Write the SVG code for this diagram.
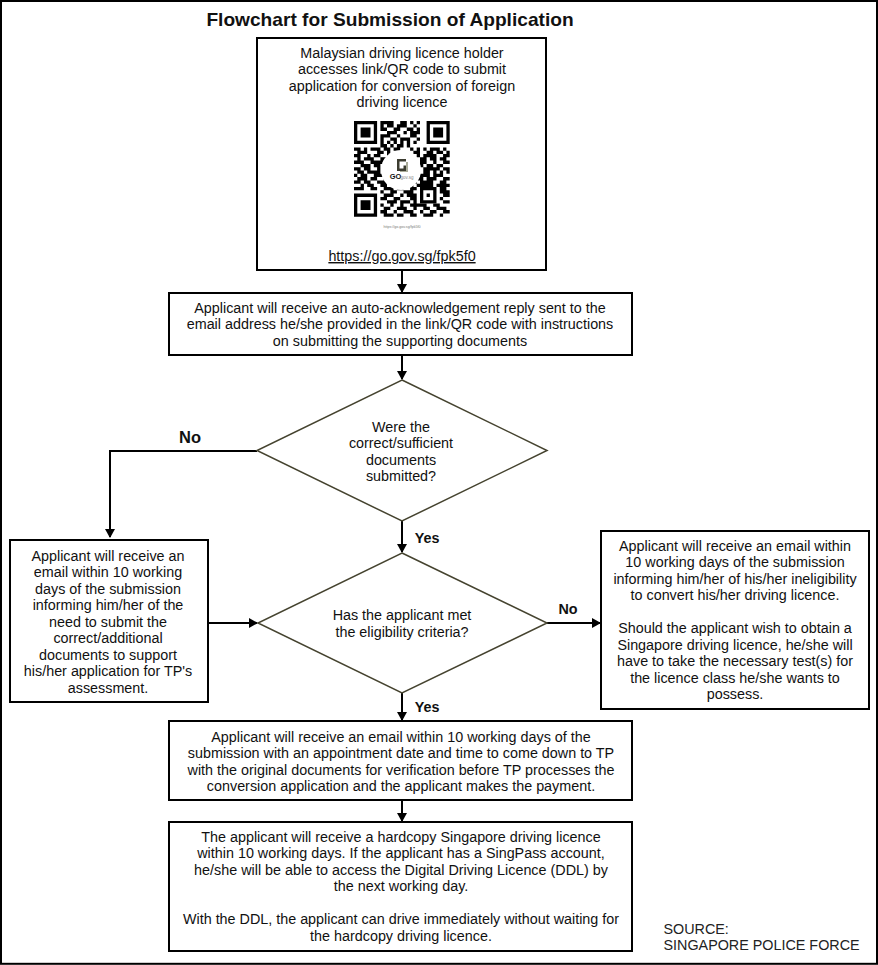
<svg xmlns="http://www.w3.org/2000/svg" width="878" height="965" viewBox="0 0 878 965">
<style>
text{font-family:"Liberation Sans",Arial,sans-serif;font-size:14.350px;fill:#111;text-anchor:middle}
.box{fill:#fff;stroke:#000;stroke-width:2}
.dia{fill:#fff;stroke:#45432f;stroke-width:1.5}
.lab{font-weight:bold}
.con{fill:none;stroke:#000;stroke-width:2}
</style>
<defs><marker id="a" markerUnits="userSpaceOnUse" markerWidth="10" markerHeight="11" refX="8" refY="5.500" orient="auto"><path d="M0 0.500L9 5.500L0 10.500z" fill="#000"/></marker></defs>
<rect x="1" y="1" width="876" height="962.800" fill="#fff" stroke="#000" stroke-width="2"/>
<text x="390" y="26" style="font-size:19.150px;font-weight:bold">Flowchart for Submission of Application</text>
<g id="connectors">
<path class="con" marker-end="url(#a)" d="M402 270V292"/>
<path class="con" marker-end="url(#a)" d="M402 355V379"/>
<path class="con" d="M257 451H110V537" marker-end="url(#a)"/>
<path class="con" marker-end="url(#a)" d="M402 521V552"/>
<path class="con" marker-end="url(#a)" d="M208 623H257"/>
<path class="con" marker-end="url(#a)" d="M547 623H600"/>
<path class="con" marker-end="url(#a)" d="M402 693V720"/>
<path class="con" marker-end="url(#a)" d="M402 800V821"/>
</g>
<g id="n1"><rect class="box" x="257" y="38" width="289" height="232"/>
<text x="402" y="58">Malaysian driving licence holder</text>
<text x="402" y="74">accesses link/QR code to submit</text>
<text x="402" y="91">application for conversion of foreign</text>
<text x="402" y="107">driving licence</text>
<g transform="translate(354 121) scale(3.3)">
<path fill="#000" fill-rule="evenodd" d="M0 0h7v7h-7zM1 1v5h5v-5zM2 2h3v3h-3zM22 0h7v7h-7zM23 1v5h5v-5zM24 2h3v3h-3zM0 22h7v7h-7zM1 23v5h5v-5zM2 24h3v3h-3zM20 20h5v5h-5zM21 21v3h3v-3zM22 22h1v1h-1z"/>
<path fill="none" stroke="#000" stroke-width="1" d="M8 .5H12M14 .5H16M17 .5H18M19 .5H20M8 1.500H9M10 1.500H12M13 1.500H16M18 1.500H19M8 2.500H10M12 2.500H14M16 2.500H18M19 2.500H20M10 3.500H13M15 3.500H16M17 3.500H20M8 4.500H11M13 4.500H14M17 4.500H19M8 5.500H9M11 5.500H13M14 5.500H17M19 5.500H20M8 6.500H9M10 6.500H11M12 6.500H13M14 6.500H15M16 6.500H17M18 6.500H19M8 7.500H10M11 7.500H12M13 7.500H15M16 7.500H17M0 8.500H2M3 8.500H4M5 8.500H8M9 8.500H11M12 8.500H14M17 8.500H18M19 8.500H20M21 8.500H22M23 8.500H26M27 8.500H28M1 9.500H4M7 9.500H9M10 9.500H11M18 9.500H20M22 9.500H24M25 9.500H27M28 9.500H29M0 10.500H2M4 10.500H5M6 10.500H8M10 10.500H11M19 10.500H20M21 10.500H25M27 10.500H29M1 11.500H2M3 11.500H6M8 11.500H10M20 11.500H22M23 11.500H25M26 11.500H28M0 12.500H3M5 12.500H9M20 12.500H22M24 12.500H25M27 12.500H29M2 13.500H5M6 13.500H8M20 13.500H21M22 13.500H24M25 13.500H27M0 14.500H2M3 14.500H5M7 14.500H8M21 14.500H26M27 14.500H29M1 15.500H3M4 15.500H8M21 15.500H23M24 15.500H25M26 15.500H27M28 15.500H29M0 16.500H1M2 16.500H4M6 16.500H9M20 16.500H23M24 16.500H27M1 17.500H4M5 17.500H7M9 17.500H10M19 17.500H21M22 17.500H25M27 17.500H29M0 18.500H2M3 18.500H5M7 18.500H11M18 18.500H19M20 18.500H24M26 18.500H28M2 19.500H3M4 19.500H6M8 19.500H10M11 19.500H13M16 19.500H18M19 19.500H24M25 19.500H29M0 20.500H3M5 20.500H7M9 20.500H12M13 20.500H15M17 20.500H19M26 20.500H28M8 21.500H9M11 21.500H13M15 21.500H18M26 21.500H29M9 22.500H12M14 22.500H15M16 22.500H19M27 22.500H29M8 23.500H10M12 23.500H14M17 23.500H19M26 23.500H27M10 24.500H13M14 24.500H17M18 24.500H19M27 24.500H29M8 25.500H9M11 25.500H12M14 25.500H15M17 25.500H22M24 25.500H26M9 26.500H11M13 26.500H16M18 26.500H19M21 26.500H23M25 26.500H28M8 27.500H10M12 27.500H13M15 27.500H18M20 27.500H21M23 27.500H25M27 27.500H29M9 28.500H12M13 28.500H15M17 28.500H19M21 28.500H24M26 28.500H27"/>
</g>
<circle cx="401" cy="170" r="20" fill="#fff"/>
<path fill="#3c3c30" d="M397 159h9v2.500h-6.500v7h4v-3h2.500v5.500h-9z"/>
<path fill="#a9ab98" d="M406 162h2v10h-8v-1h6z"/>
<text x="395.500" y="179" style="font-size:7.500px;font-weight:bold">GO</text>
<text x="407" y="178.500" style="font-size:4.500px;fill:#888">gov.sg</text>
<text x="402" y="228" style="font-size:3.600px;fill:#777">https://go.gov.sg/fpk5f0</text>
<text x="402" y="261" text-decoration="underline">https://go.gov.sg/fpk5f0</text></g>
<g id="n2"><rect class="box" x="169" y="293" width="463" height="62"/>
<text x="400" y="313">Applicant will receive an auto-acknowledgement reply sent to the</text>
<text x="400" y="329">email address he/she provided in the link/QR code with instructions</text>
<text x="400" y="346">on submitting the supporting documents</text></g>
<g id="n3"><path class="dia" d="M402 380L547 450.500L402 521L257 450.500z"/>
<text x="401" y="432">Were the</text>
<text x="401" y="448">correct/sufficient</text>
<text x="401" y="465">documents</text>
<text x="401" y="481">submitted?</text></g>
<g id="n4"><rect class="box" x="10" y="540" width="198" height="162"/>
<text x="108" y="561">Applicant will receive an</text>
<text x="108" y="577">email within 10 working</text>
<text x="108" y="594">days of the submission</text>
<text x="108" y="610">informing him/her of the</text>
<text x="108" y="627">need to submit the</text>
<text x="108" y="643">correct/additional</text>
<text x="108" y="660">documents to support</text>
<text x="108" y="676">his/her application for TP's</text>
<text x="108" y="693">assessment.</text></g>
<g id="n5"><path class="dia" d="M402 553L547 623L402 693L258 623z"/>
<text x="402" y="620">Has the applicant met</text>
<text x="402" y="637">the eligibility criteria?</text></g>
<g id="n6"><rect class="box" x="601" y="531" width="268" height="178"/>
<text x="735" y="551">Applicant will receive an email within</text>
<text x="735" y="567">10 working days of the submission</text>
<text x="735" y="584">informing him/her of his/her ineligibility</text>
<text x="735" y="600">to convert his/her driving licence.</text>
<text x="735" y="633">Should the applicant wish to obtain a</text>
<text x="735" y="650">Singapore driving licence, he/she will</text>
<text x="735" y="666">have to take the necessary test(s) for</text>
<text x="735" y="683">the licence class he/she wants to</text>
<text x="735" y="699">possess.</text></g>
<g id="n7"><rect class="box" x="169" y="721" width="463" height="79"/>
<text x="401" y="742">Applicant will receive an email within 10 working days of the</text>
<text x="401" y="758">submission with an appointment date and time to come down to TP</text>
<text x="401" y="775">with the original documents for verification before TP processes the</text>
<text x="401" y="791">conversion application and the applicant makes the payment.</text></g>
<g id="n8"><rect class="box" x="169" y="822" width="463" height="129"/>
<text x="401" y="842">The applicant will receive a hardcopy Singapore driving licence</text>
<text x="401" y="858">within 10 working days. If the applicant has a SingPass account,</text>
<text x="401" y="875">he/she will be able to access the Digital Driving Licence (DDL) by</text>
<text x="401" y="891">the next working day.</text>
<text x="401" y="924">With the DDL, the applicant can drive immediately without waiting for</text>
<text x="401" y="941">the hardcopy driving licence.</text></g>
<text class="lab" x="190" y="443" style="font-size:16.500px">No</text>
<text class="lab" x="427" y="543">Yes</text>
<text class="lab" x="568" y="614">No</text>
<text class="lab" x="427" y="712">Yes</text>
<text x="663.500" y="934" style="text-anchor:start;fill:#222">SOURCE:</text>
<text x="663.500" y="950" style="text-anchor:start;fill:#222">SINGAPORE POLICE FORCE</text>
</svg>
